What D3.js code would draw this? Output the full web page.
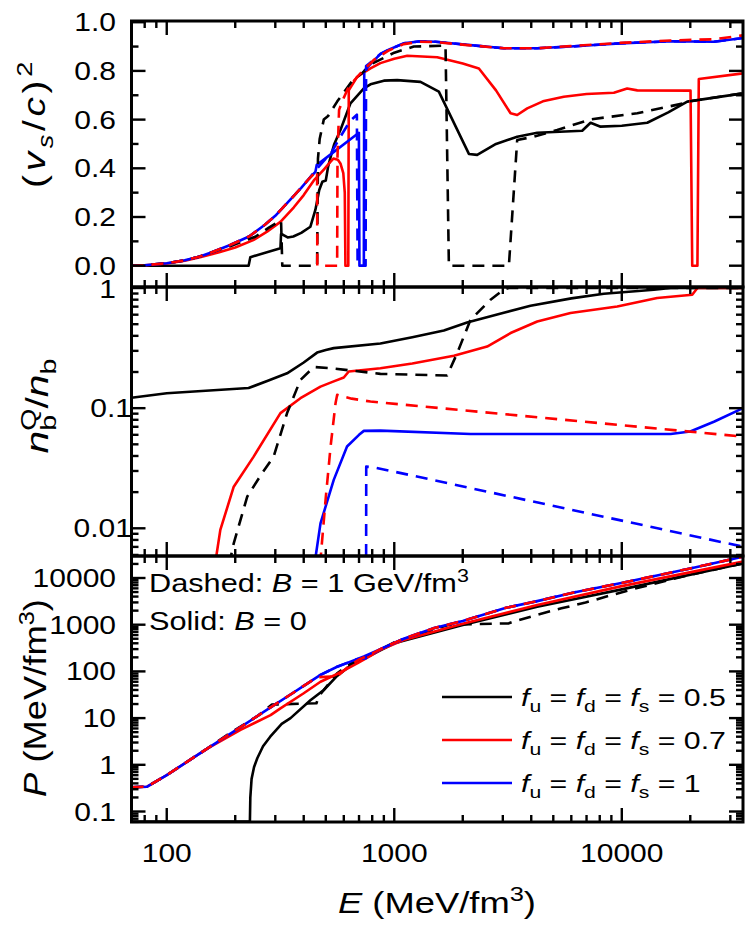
<!DOCTYPE html>
<html><head><meta charset="utf-8">
<script src="https://cdn.jsdelivr.net/npm/d3@7"></script>
<style>
body{margin:0;background:#fff}
svg{display:block}
text{font-family:"Liberation Sans",Arial,Helvetica,sans-serif;fill:#000}
</style>
</head><body>
<svg id="chart" width="747" height="925"></svg>
<script>
// ---------------- DATA (E in MeV/fm^3) ----------------
// top panel: squared sound speed (v_s/c)^2
const cs2_f05_B0 = [[70,0],[229,0],[233,0.035],[316,0.072],[318,0.13],[326,0.126],[340,0.116],[360,0.12],[390,0.135],[428,0.16],[450,0.229],[468,0.311],[483,0.345],[500,0.35],[512,0.407],[530,0.46],[545,0.5],[580,0.557],[642,0.667],[735,0.728],[786,0.745],[900,0.76],[1030,0.762],[1304,0.755],[1570,0.715],[2128,0.459],[2314,0.455],[2800,0.5],[3470,0.53],[4250,0.546],[6700,0.554],[7290,0.587],[8070,0.571],[10000,0.575],[12940,0.587],[16000,0.63],[19400,0.674],[34100,0.708]];
const cs2_f05_B1 = [[70,0],[80,0.002],[100,0.01],[120,0.022],[140,0.038],[160,0.057],[190,0.08],[245,0.119],[280,0.155],[306,0.177],[318,0.185],[322,0],[458,0],[462,0.44],[470,0.52],[490,0.6],[512,0.615],[561,0.674],[650,0.756],[720,0.79],[800,0.83],[1000,0.875],[1219,0.9],[1680,0.904],[1738,0],[3190,0],[3470,0.516],[4100,0.53],[5200,0.557],[7290,0.601],[11700,0.626],[18750,0.667],[19400,0.674],[34100,0.708]];
const cs2_f07_B0 = [[70,0],[80,0.002],[100,0.009],[120,0.02],[140,0.035],[170,0.055],[200,0.075],[240,0.105],[276,0.14],[316,0.18],[362,0.24],[400,0.29],[443,0.35],[490,0.395],[525,0.427],[540,0.44],[565,0.435],[580,0.42],[597,0.38],[606,0.3],[610,0],[628,0],[631,0.72],[687,0.776],[786,0.81],[869,0.832],[1000,0.85],[1140,0.862],[1545,0.856],[2000,0.83],[2355,0.81],[2800,0.72],[3245,0.626],[3470,0.619],[3840,0.646],[4500,0.675],[5560,0.694],[7000,0.705],[9230,0.71],[10560,0.728],[11700,0.72],[20050,0.719],[20400,0],[21500,0],[21800,0.767],[34100,0.79]];
const cs2_f07_B1 = [[70,0],[80,0.002],[100,0.01],[120,0.022],[140,0.038],[160,0.057],[190,0.085],[230,0.12],[270,0.168],[300,0.205],[350,0.272],[390,0.32],[420,0.355],[458,0.39],[459,0],[561,0],[563,0.45],[572,0.64],[600,0.69],[631,0.735],[710,0.79],[813,0.845],[950,0.885],[1100,0.91],[1300,0.92],[1520,0.918],[2160,0.905],[3030,0.893],[4250,0.893],[5950,0.902],[9800,0.915],[16400,0.925],[25400,0.93],[34100,0.946]];
const cs2_f10_B0 = [[70,0],[80,0.002],[100,0.01],[120,0.022],[140,0.038],[160,0.057],[190,0.085],[230,0.12],[270,0.168],[300,0.205],[350,0.272],[390,0.32],[420,0.355],[450,0.385],[456,0.413],[699,0.546],[703,0],[735,0],[738,0.8],[786,0.828],[870,0.87],[950,0.888],[1100,0.913],[1300,0.922],[1520,0.92],[2160,0.906],[3030,0.893],[4250,0.893],[5950,0.9],[9800,0.913],[16400,0.922],[25400,0.92],[34100,0.935]];
const cs2_f10_B1 = [[70,0],[80,0.002],[100,0.01],[120,0.022],[140,0.038],[160,0.057],[190,0.085],[230,0.12],[270,0.168],[300,0.205],[350,0.272],[390,0.32],[420,0.355],[450,0.39],[490,0.43],[530,0.465],[580,0.53],[640,0.595],[685,0.62],[690,0],[748,0],[752,0.82],[786,0.835],[870,0.87],[950,0.888],[1100,0.913],[1300,0.922],[1520,0.92],[2160,0.906],[3030,0.893],[4250,0.893],[5950,0.9],[9800,0.913],[16400,0.922],[25400,0.92],[34100,0.935]];

// middle panel: quark baryon fraction n_b^Q / n_b
const frac_f05_B0 = [[70,0.122],[100,0.133],[229,0.147],[280,0.17],[338,0.195],[400,0.24],[458,0.29],[500,0.305],[542,0.316],[869,0.345],[1200,0.39],[1652,0.443],[2090,0.517],[3000,0.62],[3970,0.712],[6000,0.82],[8340,0.897],[13840,0.968],[16400,1.0],[34100,1.0]];
const frac_f05_B1 = [[188,0.005],[197,0.0075],[226,0.0184],[260,0.028],[295,0.0395],[338,0.091],[387,0.172],[443,0.22],[525,0.215],[869,0.193],[1709,0.187],[1890,0.287],[2163,0.544],[2650,0.8],[3030,0.97],[3190,1.0],[34100,1.0]];
const frac_f07_B0 = [[163,0.005],[172,0.0097],[197,0.0222],[241,0.0395],[316,0.091],[387,0.121],[474,0.151],[542,0.167],[600,0.18],[631,0.202],[869,0.215],[1200,0.235],[1828,0.273],[2560,0.326],[3245,0.422],[4250,0.527],[5950,0.619],[9550,0.703],[14300,0.826],[20400,0.88],[21500,1.0],[34100,1.0]];
const frac_f07_B1 = [[472,0.005],[500,0.018],[525,0.048],[552,0.11],[561,0.129],[650,0.12],[786,0.1135],[34100,0.058]];
const frac_f10_B0 = [[446,0.005],[474,0.011],[542,0.0253],[620,0.048],[700,0.06],[735,0.0647],[869,0.065],[2163,0.061],[16400,0.061],[20000,0.064],[25400,0.077],[34100,0.1]];
const frac_f10_B1 = [[752,0.004],[753,0.0326],[813,0.0322],[34100,0.00703]];

// bottom panel: pressure P (MeV/fm^3)
const pres_f05_B0 = [[70,0.061],[232,0.061],[233,0.2],[236,0.5],[242,0.9],[250,1.38],[265,2.5],[285,4],[320,7.5],[350,10],[428,24],[490,40],[561,80],[660,148],[786,220],[1000,400],[2000,980],[4250,2430],[10000,5700],[34100,20600]];
const pres_f05_B1 = [[70,0.33],[82,0.34],[100,0.6],[150,2.2],[190,4.8],[250,11],[290,19.5],[455,20.8],[465,29],[561,91],[660,160],[786,230],[1000,420],[1738,1000],[3190,1070],[3340,1160],[4300,1660],[5430,2240],[6930,2990],[8750,4120],[11150,5750],[19000,11100],[34100,20600]];
const pres_f07_B0 = [[70,0.33],[82,0.34],[100,0.6],[150,2.2],[211,5.6],[286,11.6],[316,16.2],[400,34],[474,60],[561,88],[687,148],[786,215],[869,290],[1100,470],[2000,1050],[4250,2640],[10000,6700],[34100,22400]];
const pres_f07_B1 = [[70,0.33],[82,0.34],[100,0.6],[150,2.2],[211,6.4],[286,17],[350,32],[400,49],[458,75],[561,78],[620,120],[700,180],[786,230],[869,300],[1100,500],[1500,850],[2000,1200],[3100,2300],[4250,3200],[6160,4900],[10200,8000],[20000,16000],[34100,28600]];
const pres_f10_B0 = [[70,0.33],[82,0.34],[100,0.6],[150,2.2],[211,6.4],[286,17],[350,32],[400,49],[474,84],[561,126],[642,162],[735,210],[869,300],[1100,500],[1500,850],[2000,1200],[3100,2300],[4250,3200],[6160,4900],[10200,8000],[20000,16000],[34100,28600]];
const pres_f10_B1 = [[70,0.33],[82,0.34],[100,0.6],[150,2.2],[211,6.4],[286,17],[350,32],[400,49],[474,84],[561,126],[642,162],[690,185],[748,190],[869,300],[1100,500],[1500,850],[2000,1200],[3100,2300],[4250,3200],[6160,4900],[10200,8000],[20000,16000],[34100,28600]];

// axis tick labels
const xTickLabels = ["100", "1000", "10000"];
const topTickLabels = ["0.0", "0.2", "0.4", "0.6", "0.8", "1.0"];
const midTickLabels = ["0.01", "0.1", "1"];
const botTickLabels = ["0.1", "1", "10", "100", "1000", "10000"];
const legendLabels = ["0.5", "0.7", "1"];

// ---------------- LAYOUT ----------------
const svg = d3.select("#chart");
const L = 131.5, R = 743;
const panels = [
  {y0: 21, y1: 287},
  {y0: 287, y1: 556},
  {y0: 556, y1: 822}
];
const colors = {f05: "#000000", f07: "#ff0000", f10: "#0000ff"};
const x = d3.scaleLog().domain([70, 34100]).range([L, R]);
const yTop = d3.scaleLinear().domain([-0.0875, 1.005]).range([panels[0].y1, panels[0].y0]);
const yMid = d3.scaleLog().domain([0.00588, 1.02]).range([panels[1].y1, panels[1].y0]);
const yBot = d3.scaleLog().domain([0.0596, 29580]).range([panels[2].y1, panels[2].y0]);

const defs = svg.append("defs");
panels.forEach((p, i) => {
  defs.append("clipPath").attr("id", "clip" + i).append("rect")
    .attr("x", L).attr("y", p.y0).attr("width", R - L).attr("height", p.y1 - p.y0);
});

function drawSeries(pi, yScale, list) {
  const g = svg.append("g").attr("clip-path", `url(#clip${pi})`);
  const line = d3.line().x(d => x(d[0])).y(d => yScale(d[1]));
  list.forEach(s => {
    g.append("path").datum(s.data).attr("d", line)
      .attr("fill", "none").attr("stroke", s.color).attr("stroke-width", 2.6)
      .attr("stroke-linejoin", "round")
      .attr("stroke-dasharray", s.dash ? "12,8" : null);
  });
}

drawSeries(0, yTop, [
  {data: cs2_f05_B0, color: colors.f05}, {data: cs2_f07_B0, color: colors.f07}, {data: cs2_f10_B0, color: colors.f10},
  {data: cs2_f05_B1, color: colors.f05, dash: true}, {data: cs2_f10_B1, color: colors.f10, dash: true}, {data: cs2_f07_B1, color: colors.f07, dash: true}
]);
drawSeries(1, yMid, [
  {data: frac_f05_B0, color: colors.f05}, {data: frac_f07_B0, color: colors.f07}, {data: frac_f10_B0, color: colors.f10},
  {data: frac_f05_B1, color: colors.f05, dash: true}, {data: frac_f10_B1, color: colors.f10, dash: true}, {data: frac_f07_B1, color: colors.f07, dash: true}
]);
drawSeries(2, yBot, [
  {data: pres_f05_B0, color: colors.f05}, {data: pres_f05_B1, color: colors.f05, dash: true},
  {data: pres_f07_B0, color: colors.f07}, {data: pres_f10_B0, color: colors.f10},
  {data: pres_f10_B1, color: colors.f10, dash: true}, {data: pres_f07_B1, color: colors.f07, dash: true}
]);

// ---------------- TICKS & FRAMES ----------------
function logTickValues(domain) {
  const out = [];
  for (let k = -4; k <= 6; k++) {
    for (let m = 1; m <= 9; m++) {
      const v = m * Math.pow(10, k);
      if (v >= domain[0] * 0.9999 && v <= domain[1] * 1.0001) out.push({v, major: m === 1});
    }
  }
  return out;
}
const MAJ = 14, MIN = 7;
const tg = svg.append("g").attr("stroke", "#000").attr("stroke-width", 2.4);
const xt = logTickValues(x.domain());
panels.forEach(p => {
  xt.forEach(t => {
    const len = t.major ? MAJ : MIN, xx = x(t.v);
    tg.append("line").attr("x1", xx).attr("x2", xx).attr("y1", p.y1).attr("y2", p.y1 - len);
    tg.append("line").attr("x1", xx).attr("x2", xx).attr("y1", p.y0).attr("y2", p.y0 + len);
  });
});
function yTicks(scale, ticks) {
  ticks.forEach(t => {
    const len = t.major ? MAJ : MIN, yy = scale(t.v);
    tg.append("line").attr("x1", L).attr("x2", L + len).attr("y1", yy).attr("y2", yy);
    tg.append("line").attr("x1", R).attr("x2", R - len).attr("y1", yy).attr("y2", yy);
  });
}
const topTicks = d3.range(0, 11).map(i => ({v: i / 10, major: i % 2 === 0}));
yTicks(yTop, topTicks);
yTicks(yMid, logTickValues(yMid.domain()));
yTicks(yBot, logTickValues(yBot.domain()));
panels.forEach(p => {
  svg.append("rect").attr("x", L).attr("y", p.y0).attr("width", R - L).attr("height", p.y1 - p.y0)
    .attr("fill", "none").attr("stroke", "#000").attr("stroke-width", 3);
});

// ---------------- TEXT ----------------
// segments: {t, it, sub, sup, dx}; o: {x, y, size, anchor, rotate, sx, w, ls}
function rich(segs, o) {
  const g = svg.append("g").attr("transform", `translate(${o.x},${o.y})` + (o.rotate ? ` rotate(${o.rotate})` : ""));
  const t = g.append("text").attr("font-size", o.size).attr("text-anchor", o.anchor || "start");
  if (o.ls) t.attr("letter-spacing", o.ls);
  let cur = 0;
  segs.forEach(s => {
    const sp = t.append("tspan").text(s.t);
    const shift = s.sup ? -0.4 * o.size : s.sub ? 0.25 * o.size : 0;
    sp.attr("font-size", (s.sup || s.sub) ? 0.7 * o.size : o.size);
    if (s.it) sp.attr("font-style", "italic");
    if (shift !== cur) { sp.attr("dy", shift - cur); cur = shift; }
    if (s.dx) sp.attr("dx", s.dx);
  });
  let sx = o.sx || 1;
  if (o.w) sx = o.w / t.node().getBBox().width;
  t.attr("transform", `scale(${sx},1)`);
  return sx;
}

const TS = 25, TSX = 1.2;
// y tick labels
topTickLabels.forEach(lab => rich([{t: lab}], {x: 116, y: yTop(+lab) + 9, size: TS, anchor: "end", sx: TSX}));
midTickLabels.forEach(lab => rich([{t: lab}], {x: lab === "1" ? 116 : 132, y: yMid(+lab) + (lab === "1" ? 10 : 9), size: TS, anchor: "end", sx: TSX}));
botTickLabels.forEach(lab => rich([{t: lab}], {x: 116, y: yBot(+lab) + 9, size: TS, anchor: "end", sx: TSX}));
// x tick labels
xTickLabels.forEach(lab => rich([{t: lab}], {x: x(+lab), y: 862, size: TS, anchor: "middle", sx: TSX}));

// axis titles
rich([{t: "E", it: true}, {t: " (MeV/fm"}, {t: "3", sup: true}, {t: ")"}], {x: 437, y: 913, size: 30, anchor: "middle", w: 198});
rich([{t: "("}, {t: "v", it: true}, {t: "s", sub: true, it: true}, {t: "/"}, {t: "c", it: true}, {t: ")"}, {t: "2", sup: true}],
  {x: 45, y: 188, size: 32, anchor: "start", rotate: -90, w: 130, ls: 3});
rich([{t: "n", it: true}, {t: "b", sub: true}, {t: "Q", sup: true, dx: -12}, {t: "/"}, {t: "n", it: true}, {t: "b", sub: true}],
  {x: 48, y: 406, size: 31, anchor: "middle", rotate: -90, w: 95});
rich([{t: "P", it: true}, {t: " (MeV/fm"}, {t: "3", sup: true}, {t: ")"}],
  {x: 46, y: 698, size: 31, anchor: "middle", rotate: -90, w: 198});

// annotations
const asx = rich([{t: "Dashed: "}, {t: "B", it: true}, {t: " = 1 GeV/fm"}, {t: "3", sup: true}], {x: 149, y: 592, size: 25, w: 320});
rich([{t: "Solid: "}, {t: "B", it: true}, {t: " = 0"}], {x: 149, y: 630, size: 25, sx: asx});

// legend
const legY = [697, 740, 783];
const legC = [colors.f05, colors.f07, colors.f10];
let lsx = null;
legendLabels.forEach((lab, i) => {
  svg.append("line").attr("x1", 442).attr("x2", 512).attr("y1", legY[i]).attr("y2", legY[i])
    .attr("stroke", legC[i]).attr("stroke-width", 2.6);
  const segs = [{t: "f", it: true}, {t: "u", sub: true}, {t: " = "}, {t: "f", it: true}, {t: "d", sub: true}, {t: " = "},
    {t: "f", it: true}, {t: "s", sub: true}, {t: " = " + lab}];
  const r = rich(segs, {x: 521, y: legY[i] + 8.5, size: 24, w: i === 0 ? 205 : null, sx: lsx});
  if (i === 0) lsx = r;
});
</script>
</body></html>
